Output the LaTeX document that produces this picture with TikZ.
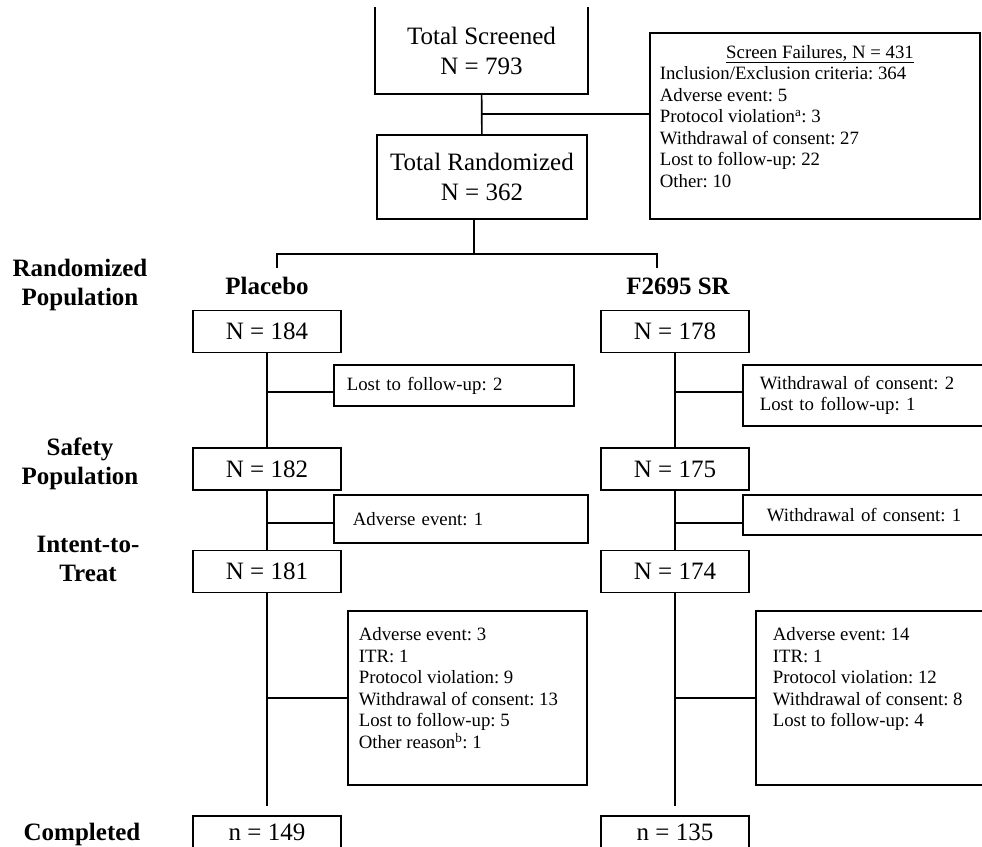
\documentclass[tikz,border=0pt]{standalone}
\usepackage{fontspec}
\setmainfont{Liberation Serif}
\frenchspacing

\begin{document}
\begin{tikzpicture}[x=1pt,y=-1pt,line width=1.6pt]
  \tikzstyle{box}=[draw,inner sep=0pt,align=center,font=\fontsize{25}{30}\selectfont]
  \tikzstyle{grp}=[box,minimum width=148pt,minimum height=42pt]
  \tikzstyle{why}=[draw,inner ysep=0pt,anchor=west,align=left,font=\fontsize{18.8}{21.5}\selectfont]
  \tikzstyle{lst}=[inner sep=0pt,anchor=north west,align=left,font=\fontsize{18.8}{21.5}\selectfont]
  \tikzstyle{lab}=[align=center,font=\bfseries\fontsize{25}{29}\selectfont]
  \useasboundingbox (0,0) rectangle (982,846);
  \clip (0,0) rectangle (982,846);

  % screening
  \node[box,draw=none,minimum width=211pt,minimum height=85pt] (scr) at (481.5,50.5) {Total Screened\\N = 793};
  \draw (scr.north west) |- (scr.south east) -- (scr.north east);
  \node[box,minimum width=210pt,minimum height=84pt] (rnd) at (482,177) {Total Randomized\\N = 362};
  \node[draw,minimum width=330pt,minimum height=186pt] (sf) at (815,126) {};
  \node[anchor=base,inner sep=0pt,font=\fontsize{18.8}{21.5}\selectfont] (sfhead) at (820,58) {\underline{Screen Failures, N = 431}};
  \node[lst] (sflist) at (659,66) {Inclusion/Exclusion criteria: 364\\Adverse event: 5\\Protocol violation\textsuperscript{a}: 3\\Withdrawal of consent: 27\\Lost to follow-up: 22\\Other: 10};
  \draw (scr) -- (rnd);
  \draw ([yshift=12pt]sf.west) -| (scr.south);

  % arms
  \node[lab] (plc) at (267,286) {Placebo};
  \node[lab] (f26) at (678,286) {F2695 SR};
  \coordinate (br) at (474,254);
  \coordinate (bl) at (277,268);
  \coordinate (bf) at (657,268);
  \draw ([xshift=-8pt]rnd.south) -- (br);
  \draw (bl) |- (br) -| (bf);

  % population labels
  \node[lab] (lrand) at (80,285) {Randomized\\Population};
  \node[lab] (lsafe) at (80,464) {Safety\\Population};
  \node[lab] (litt) at (88,559) {Intent-to-\\Treat};
  \node[lab] (lcomp) at (82,834) {Completed};

  % placebo arm
  \node[grp] (p184) at (267,331.5) {N = 184};
  \node[grp] (p182) at (267,469) {N = 182};
  \node[grp] (p181) at (267,571.5) {N = 181};
  \node[grp,minimum height=32pt] (p149) at (267,832) {n = 149};
  \node[why,inner xsep=13pt,text width=214pt,minimum height=41pt] (plost) at (333,385.5) {Lost to follow-up: 2};
  \node[why,inner xsep=19pt,text width=216pt,minimum height=48pt] (pae) at (333,519) {Adverse event: 1};
  \node[draw,minimum width=239pt,minimum height=174pt] (pdisc) at (467.5,698) {};
  \node[lst] (pdisctxt) at (358,627) {Adverse event: 3\\ITR: 1\\Protocol violation: 9\\Withdrawal of consent: 13\\Lost to follow-up: 5\\Other reason\textsuperscript{b}: 1};
  \draw (p184) -- (p182);
  \draw (p182) -- (p181);
  \draw (p181) -- ([yshift=9pt]p149.north);
  \draw ([yshift=-6.5pt]plost.west) -| (p184.south);
  \draw ([yshift=-4pt]pae.west) -| (p182.south);
  \draw (pdisc.west) -| (p181.south);

  % F2695 SR arm
  \node[grp] (f178) at (675,331.5) {N = 178};
  \node[grp] (f175) at (675,469) {N = 175};
  \node[grp] (f174) at (675,571.5) {N = 174};
  \node[grp,minimum height=32pt] (f135) at (675,832) {n = 135};
  \node[why,inner xsep=17pt,text width=210pt,minimum height=61pt] (flost) at (742,395.5) {Withdrawal of consent: 2\\Lost to follow-up: 1};
  \node[why,inner xsep=24pt,text width=220pt,minimum height=40pt] (fwd) at (742,515) {Withdrawal of consent: 1};
  \node[draw,minimum width=230pt,minimum height=174pt] (fdisc) at (871,698) {};
  \node[lst] (fdisctxt) at (772,627) {Adverse event: 14\\ITR: 1\\Protocol violation: 12\\Withdrawal of consent: 8\\Lost to follow-up: 4};
  \draw (f178) -- (f175);
  \draw (f175) -- (f174);
  \draw (f174) -- ([yshift=9pt]f135.north);
  \draw ([yshift=3.5pt]flost.west) -| (f178.south);
  \draw ([yshift=-8pt]fwd.west) -| (f175.south);
  \draw (fdisc.west) -| (f174.south);
\end{tikzpicture}
\end{document}
